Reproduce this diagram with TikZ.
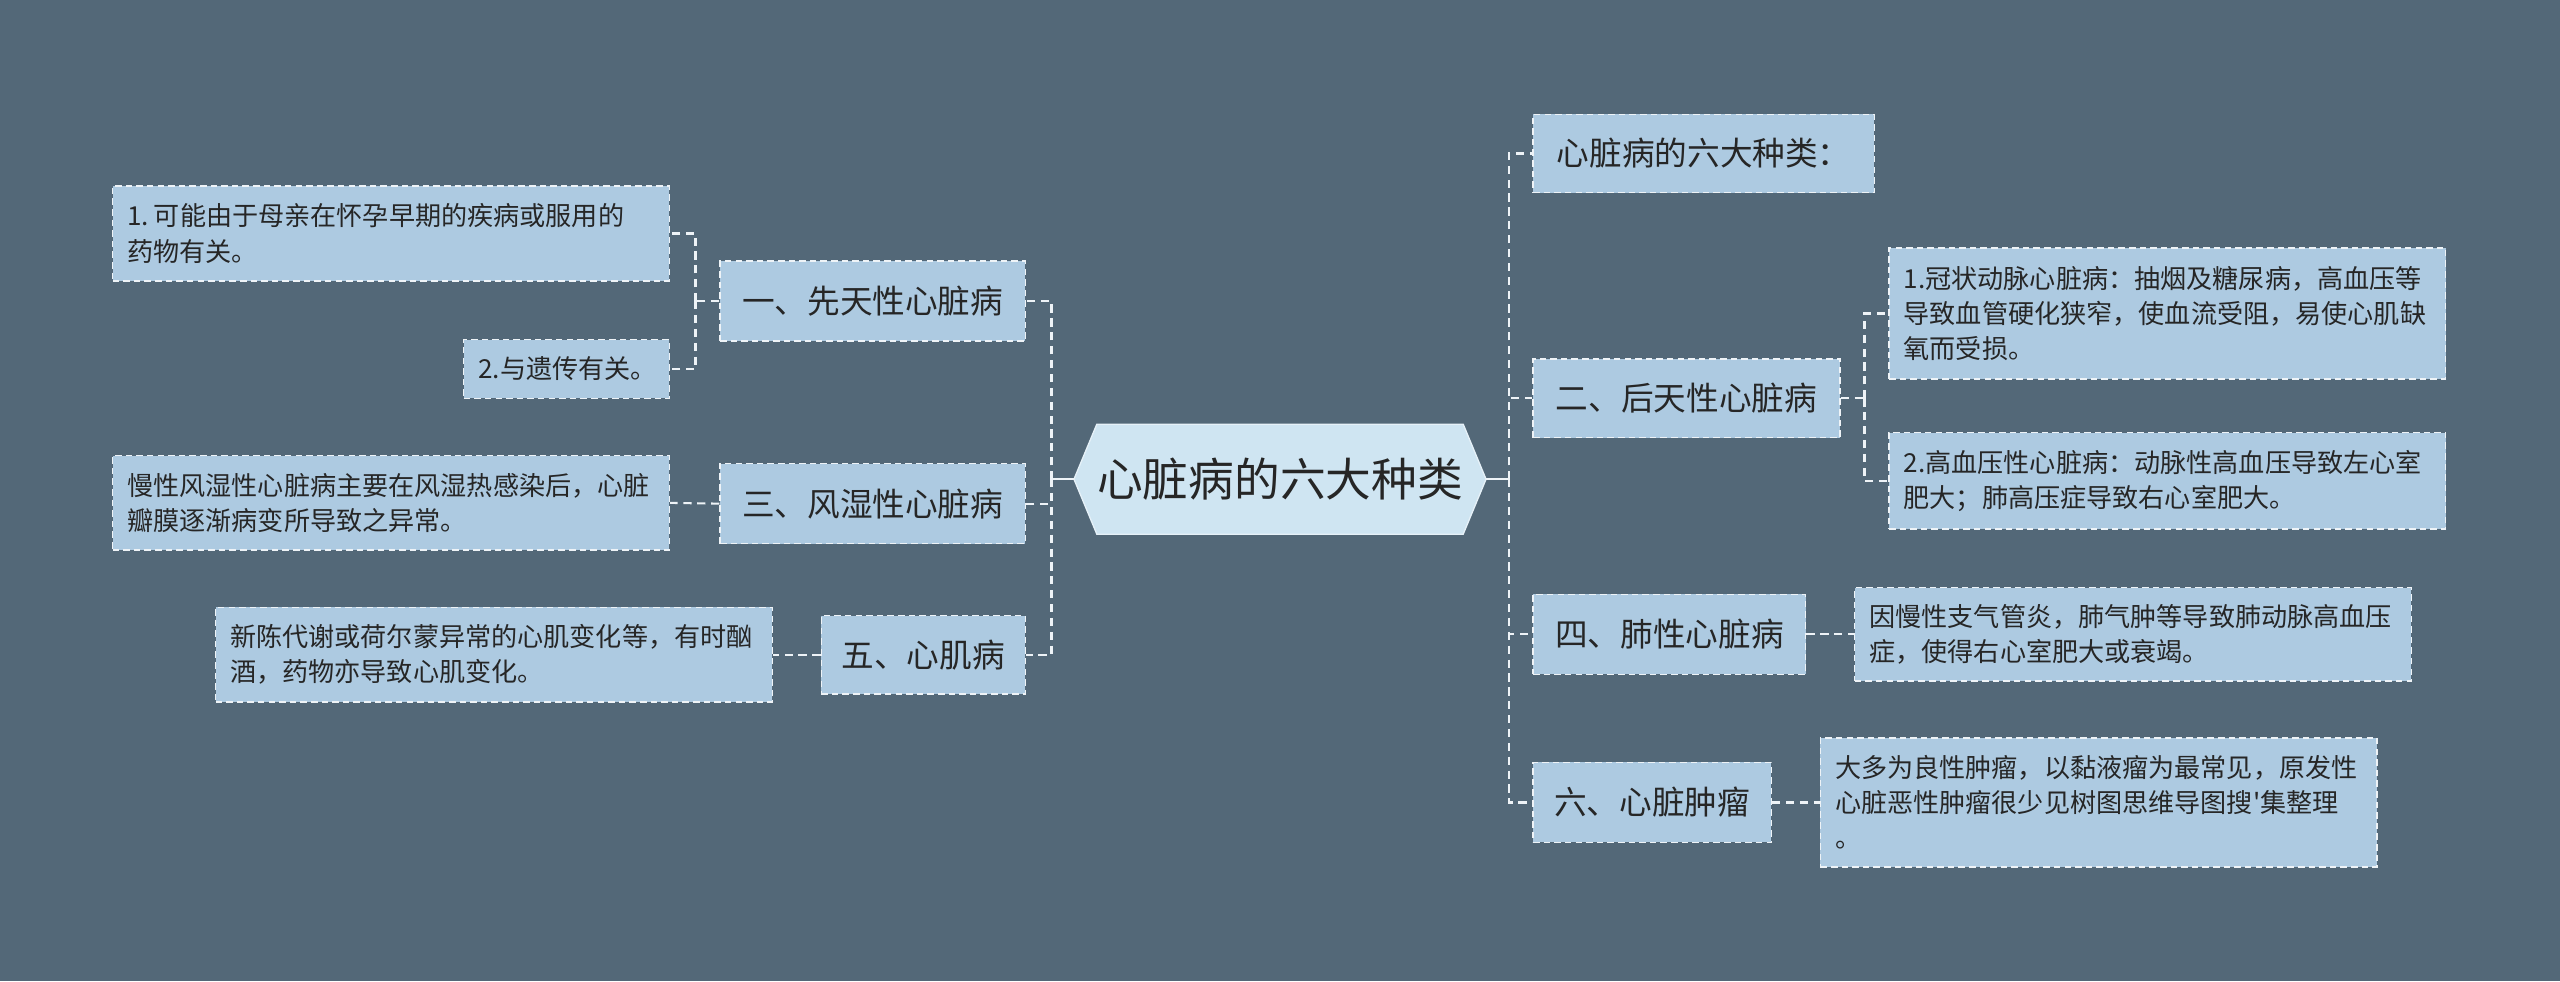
\documentclass[tikz,border=0pt]{standalone}
\usepackage{fontspec}
\setmainfont{Noto Sans CJK SC}
\newfontfamily\aposfont{Noto Sans CJK SC}[Ligatures=ResetAll]
\definecolor{bg}{HTML}{536878}
\definecolor{boxfill}{HTML}{ADCAE1}
\definecolor{rootfill}{HTML}{CFE5F2}
\definecolor{rootline}{HTML}{E6F1F8}
\definecolor{ink}{HTML}{262626}
\definecolor{wire}{HTML}{EEF3F7}
\pgfdeclarelayer{bgl}
\pgfdeclarelayer{back}
\pgfsetlayers{bgl,back,main}
\tikzset{
 wiredash/.style={draw=wire, line width=1.3pt, dash pattern=on 5pt off 3.5pt},
 wiresolid/.style={draw=wire, line width=1.3pt},
 topic/.style={draw=wire, line width=0.9pt, dash pattern=on 4pt off 2.5pt, fill=boxfill, text=ink,
   font=\fontsize{20}{24}\selectfont, minimum height=49pt, inner sep=0pt},
 detail/.style={draw=wire, line width=0.9pt, dash pattern=on 4pt off 2.5pt, fill=boxfill, text=ink,
   font=\fontsize{16}{21.5}\selectfont, align=left, text width=323pt, inner xsep=9pt, inner ysep=0pt},
}
\begin{document}
\begin{tikzpicture}[x=1pt,y=-1pt]
\begin{pgfonlayer}{bgl}
\fill[bg] (0,0) rectangle (1568,601);
\end{pgfonlayer}
\useasboundingbox (0,0) rectangle (1568,601);

% root
\node[font=\fontsize{28}{32}\selectfont, text=ink, minimum width=252pt, minimum height=67pt, inner sep=0pt] (root) at (784,293.5) {心脏病的六大种类};
\begin{pgfonlayer}{back}
\filldraw[fill=rootfill, draw=rootline, line width=0.8pt] (root.west) -- ([xshift=14pt]root.north west) -- ([xshift=-14pt]root.north east) -- (root.east) -- ([xshift=-14pt]root.south east) -- ([xshift=14pt]root.south west) -- cycle;
\end{pgfonlayer}

% left topics
\node[topic, minimum width=187pt] (n1) at (534.5,184.5) {一、先天性心脏病};
\node[topic, minimum width=187pt] (n3) at (534.5,308.5) {三、风湿性心脏病};
\node[topic, minimum width=125pt, minimum height=48pt] (n5) at (565.5,401) {五、心肌病};

% left details
\node[detail, minimum height=58pt] (d1a) at (239.5,143) {1.\hspace{3pt}可能由于母亲在怀孕早期的疾病或服用的\\药物有关。};
\node[detail, text width=108pt, minimum height=36pt] (d1b) at (347,226) {2.与遗传有关。};
\node[detail, minimum height=58pt] (d3) at (239.5,308) {慢性风湿性心脏病主要在风湿热感染后，心脏\\瓣膜逐渐病变所导致之异常。};
\node[detail, minimum height=58pt] (d5) at (302.5,401) {新陈代谢或荷尔蒙异常的心肌变化等，有时酗\\酒，药物亦导致心肌变化。};

% right topics
\node[topic, minimum width=209pt, minimum height=48pt] (r0) at (1043.5,94) {心脏病的六大种类：};
\node[topic, minimum width=188pt, minimum height=48pt] (r2) at (1033,244) {二、后天性心脏病};
\node[topic, minimum width=167pt] (r4) at (1022.5,388.5) {四、肺性心脏病};
\node[topic, minimum width=146pt] (r6) at (1012,491.5) {六、心脏肿瘤};

% right details
\node[detail, minimum height=80pt] (d2a) at (1327.5,192) {1.冠状动脉心脏病：抽烟及糖尿病，高血压等\\导致血管硬化狭窄，使血流受阻，易使心肌缺\\氧而受损。};
\node[detail, minimum height=59pt] (d2b) at (1327.5,294.5) {2.高血压性心脏病：动脉性高血压导致左心室\\肥大；肺高压症导致右心室肥大。};
\node[detail, minimum height=57pt] (d4) at (1306.5,388.5) {因慢性支气管炎，肺气肿等导致肺动脉高血压\\症，使得右心室肥大或衰竭。};
\node[detail, minimum height=79pt] (d6) at (1285.5,491.5) {大多为良性肿瘤，以黏液瘤为最常见，原发性\\心脏恶性肿瘤很少见树图思维导图搜{\aposfont '}集整理\\。};

% junctions
\coordinate (lj) at (644,293.5);
\coordinate (rj) at (924,293.5);
\coordinate (j1) at (426,184.5);
\coordinate (j2) at (1142,244);

% root to trunks
\draw[wiresolid] (root.west) -- (lj);
\draw[wiresolid] (root.east) -- (rj);

% left trunk
\draw[wiredash] (lj) |- (n1.east);
\draw[wiredash] (lj) |- (n3.east);
\draw[wiredash] (lj) |- (n5.east);

% right trunk
\draw[wiredash] (rj) |- (r0.west);
\draw[wiredash] (rj) |- (r2.west);
\draw[wiredash] (rj) |- (r4.west);
\draw[wiredash] (rj) |- (r6.west);

% left details
\draw[wiredash] (n1.west) -- (j1);
\draw[wiredash] (j1) |- (d1a.east);
\draw[wiredash] (j1) |- (d1b.east);
\draw[wiredash] (n3.west) -- (d3.east);
\draw[wiredash] (n5.west) -- (d5.east);

% right details
\draw[wiredash] (r2.east) -- (j2);
\draw[wiredash] (j2) |- (d2a.west);
\draw[wiredash] (j2) |- (d2b.west);
\draw[wiredash] (r4.east) -- (d4.west);
\draw[wiredash] (r6.east) -- (d6.west);
\end{tikzpicture}
\end{document}
